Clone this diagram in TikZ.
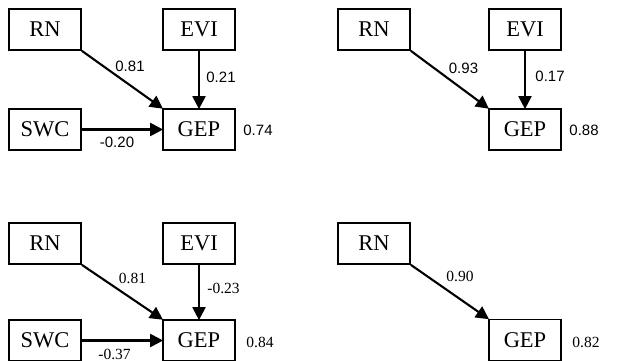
\documentclass[tikz,border=0pt]{standalone}
\usepackage{fontspec}
\setmainfont{Liberation Serif}
\newfontfamily\numsans{Liberation Sans}
\usetikzlibrary{arrows.meta}
\tikzset{
  var/.style={draw, line width=1.7pt, minimum width=72pt, minimum height=41pt, inner sep=0pt,
    font=\fontsize{22.5}{22.5}\selectfont},
  path/.style={line width=2.1pt, -{Triangle[length=13pt,width=13pt]}, shorten >=-1pt},
  coefA/.style={font=\numsans\fontsize{15}{15}\selectfont, inner sep=0pt},
  coefB/.style={font=\fontsize{15.5}{15.5}\selectfont, inner sep=0pt}
}
\begin{document}
\begin{tikzpicture}[x=1pt,y=-1pt]
\useasboundingbox (0,0) rectangle (626,361);
\clip (0,0) rectangle (626,361);
\fill[white] (0,0) rectangle (626,361);
% top-left
\node[var] (rn1) at (45,29.5) {RN};
\node[var] (evi1) at (199,29.5) {EVI};
\node[var] (swc1) at (45,129.5) {SWC};
\node[var] (gep1) at (199,129.5) {GEP};
\draw[path] (rn1.south east) -- (gep1.north west);
\draw[path] (evi1.south) -- (gep1.north);
\draw[path] (swc1.east) -- (gep1.west);
\node[coefA] (l1a) at (130,66) {0.81};
\node[coefA] (l1b) at (221,77) {0.21};
\node[coefA] (l1c) at (117,142) {-0.20};
\node[coefA] (l1d) at (258,130) {0.74};
% top-right
\node[var] (rn2) at (374,29.5) {RN};
\node[var] (evi2) at (525,29.5) {EVI};
\node[var] (gep2) at (525,129.5) {GEP};
\draw[path] (rn2.south east) -- (gep2.north west);
\draw[path] (evi2.south) -- (gep2.north);
\node[coefA] (l2a) at (463.5,68.5) {0.93};
\node[coefA] (l2b) at (550,76.5) {0.17};
\node[coefA] (l2d) at (584,130) {0.88};
% bottom-left
\node[var] (rn3) at (45,243.5) {RN};
\node[var] (evi3) at (199,243.5) {EVI};
\node[var] (swc3) at (45,340.5) {SWC};
\node[var] (gep3) at (199,340.5) {GEP};
\draw[path] (rn3.south east) -- (gep3.north west);
\draw[path] (evi3.south) -- (gep3.north);
\draw[path] (swc3.east) -- (gep3.west);
\node[coefB] (l3a) at (132.5,278.5) {0.81};
\node[coefB] (l3b) at (223.5,288.5) {-0.23};
\node[coefB] (l3c) at (114.5,354) {-0.37};
\node[coefB] (l3d) at (260,342) {0.84};
% bottom-right
\node[var] (rn4) at (374,243.5) {RN};
\node[var] (gep4) at (525,340) {GEP};
\draw[path] (rn4.south east) -- (gep4.north west);
\node[coefB] (l4a) at (460,276.5) {0.90};
\node[coefB] (l4d) at (586,342) {0.82};
\end{tikzpicture}
\end{document}
